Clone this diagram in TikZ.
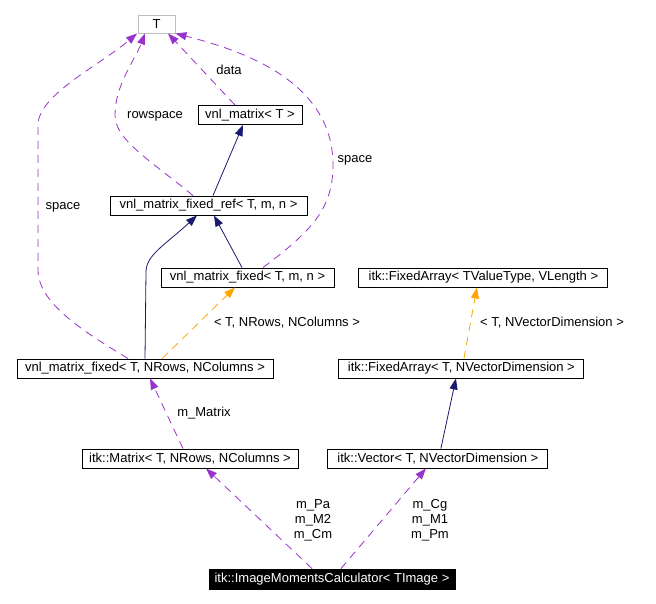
\documentclass[tikz,border=0pt]{standalone}
\usepackage{fontspec}
\setmainfont{Liberation Sans}
\usetikzlibrary{arrows.meta, positioning}

\definecolor{edgepurple}{HTML}{9A32CD}
\definecolor{edgenavy}{HTML}{191970}
\definecolor{edgeorange}{HTML}{FFA500}

\begin{document}
\begin{tikzpicture}[
      x=1pt, y=-1pt,
      font=\fontsize{13}{15}\selectfont,
      cls/.style={rectangle, draw, line width=0.9pt, fill=white, minimum height=19pt, inner xsep=1pt, inner ysep=0pt},
      hidden/.style={cls, draw=black!25},
      focus/.style={cls, fill=black, text=white},
      inherit/.style={-{Triangle[length=11pt, width=8pt]}, draw=edgenavy, line width=0.8pt},
      member/.style={-{Triangle[length=11pt, width=8pt]}, draw=edgepurple, line width=0.8pt, dash pattern=on 8pt off 6pt},
      tmpl/.style={-{Triangle[length=11pt, width=8pt]}, draw=edgeorange, line width=0.8pt, dash pattern=on 8pt off 6pt},
      lbl/.style={align=center, inner sep=0pt}
    ]
    \useasboundingbox[fill=white] (0,0) rectangle (656,603);

    \node[hidden, minimum width=37pt, minimum height=18pt] (T) at (156.5,24) {T};
    \node[cls, minimum width=104pt] (vmat) at (250,115) {vnl\_matrix< T >};
    \node[cls, minimum width=197pt] (vref) at (208.5,205.5) {vnl\_matrix\_fixed\_ref< T, m, n >};
    \node[cls, minimum width=173pt] (vfix) at (247.5,277.5) {vnl\_matrix\_fixed< T, m, n >};
    \node[cls, minimum width=249pt, right=24pt of vfix] (faTV) {itk::FixedArray< TValueType, VLength >};
    \node[cls, minimum width=256pt] (vfixNR) at (145,368.5) {vnl\_matrix\_fixed< T, NRows, NColumns >};
    \node[cls, minimum width=245pt, right=65pt of vfixNR] (faT) {itk::FixedArray< T, NVectorDimension >};
    \node[cls, minimum width=216pt] (mat) at (190,458.5) {itk::Matrix< T, NRows, NColumns >};
    \node[cls, minimum width=220pt, right=29pt of mat] (vec) {itk::Vector< T, NVectorDimension >};
    \node[focus, minimum width=246pt, minimum height=20pt] (imc) at (332,579) {itk::ImageMomentsCalculator< TImage >};

    % members pointing at T
    \draw[member] ([xshift=-15pt]vmat.north) -- ([xshift=11.5pt]T.south);
    \node[lbl] (ldata) at (229,70) {data};
    \draw[member] ([xshift=-15.5pt]vref.north) .. controls (150,160) and (115,140) .. (115,115)
      .. controls (115,85) and (135,60) .. ([xshift=-11.5pt]T.south);
    \node[lbl] (lrow) at (155,116) {rowspace};
    \draw[member] ([xshift=15.5pt]vfix.north) .. controls (310,232) and (333,210) .. (333,165)
      .. controls (333,80) and (240,50) .. (T.south east);
    \node[lbl] (lspr) at (355,160) {space};
    \draw[member] ([xshift=-17pt]vfixNR.north) .. controls (90,335) and (38,305) .. (38,270) -- (38,125)
      .. controls (38,95) and (100,65) .. ([xshift=-19.5pt]T.south);
    \node[lbl] (lspl) at (63,207) {space};

    % inheritance
    \draw[inherit] ([xshift=4.5pt]vref.north) -- ([xshift=-7pt]vmat.south);
    \draw[inherit] ([xshift=-5.5pt]vfix.north) -- ([xshift=5.5pt]vref.south);
    \draw[inherit] (vfixNR.north) -- (146,272) .. controls (146,255) and (165,245) .. ([xshift=-11.5pt]vref.south);
    \draw[inherit] ([xshift=3pt]vec.north) -- ([xshift=-5.5pt]faT.south);

    % template instances
    \draw[tmpl] ([xshift=17pt]vfixNR.north) -- ([xshift=-12.5pt]vfix.south);
    \node[lbl] (lnr) at (287,323) {< T, NRows, NColumns >};
    \draw[tmpl] ([xshift=2.5pt]faT.north) -- ([xshift=-6.5pt]faTV.south);
    \node[lbl] (lnv) at (552,323) {< T, NVectorDimension >};

    % members
    \draw[member] ([xshift=-7pt]mat.north) -- ([xshift=5pt]vfixNR.south);
    \node[lbl] (lmm) at (204,413) {m\_Matrix};
    \draw[member] ([xshift=-20pt]imc.north) -- ([xshift=16pt]mat.south);
    \node[lbl] (lpa) at (313,520) {m\_Pa\\m\_M2\\m\_Cm};
    \draw[member] ([xshift=9pt]imc.north) -- ([xshift=-12pt]vec.south);
    \node[lbl] (lcg) at (430,520) {m\_Cg\\m\_M1\\m\_Pm};
  \end{tikzpicture}
\end{document}
